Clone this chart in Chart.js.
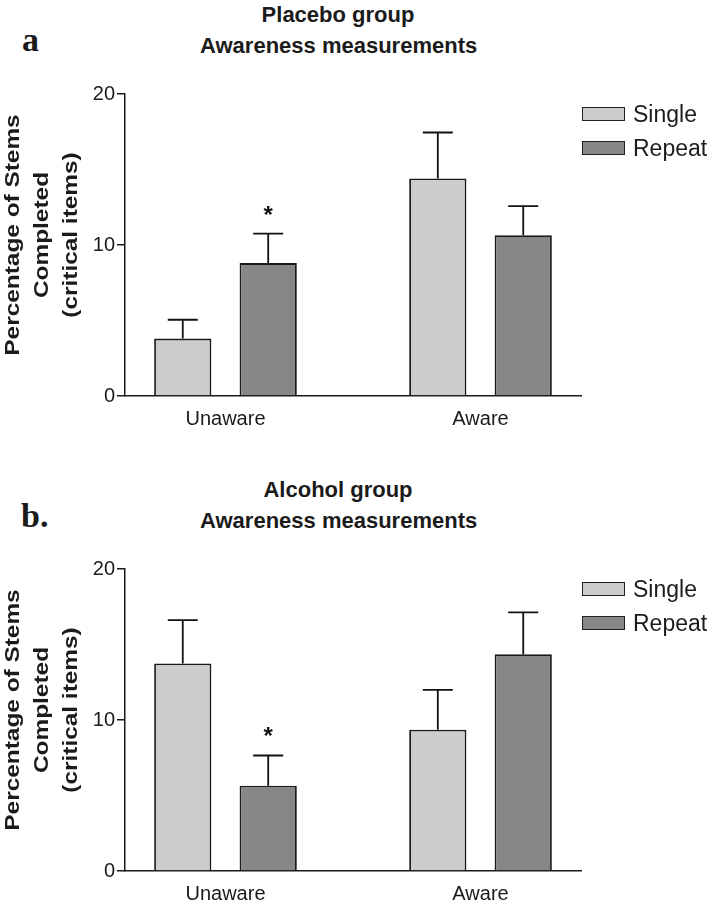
<!DOCTYPE html>
<html lang="en">
<head>
    <meta charset="UTF-8">
    <script src="https://cdn.jsdelivr.net/npm/chart.js"></script>
    <title>Awareness measurements</title>
    <style>
        body { margin: 0; background: #fff; }
        #page { position: relative; width: 710px; height: 901px; overflow: hidden; font-family: "Liberation Sans", Arial, sans-serif; color: #1b1b1b; }
        .abs { position: absolute; white-space: nowrap; }
        .title { left: 200px; width: 276px; text-align: center; font-size: 22px; line-height: 22px; font-weight: bold; }
        .letter { font-family: "Liberation Serif", "Times New Roman", serif; font-weight: bold; font-size: 34px; line-height: 34px; }
        .lgbox { width: 41px; height: 12px; border: 1.5px solid #222; }
        .lgtext { font-size: 23px; line-height: 23px; }
        canvas { position: absolute; left: 0; }
    </style>
</head>
<body>
<div id="page">
    <div class="abs title" style="top:4px">Placebo group</div>
    <div class="abs title" style="top:35px">Awareness measurements</div>
    <div class="abs letter" style="left:22px; top:23px">a</div>

    <div class="abs title" style="top:479px">Alcohol group</div>
    <div class="abs title" style="top:510px">Awareness measurements</div>
    <div class="abs letter" style="left:21px; top:499px">b.</div>

    <canvas id="placeboChart" width="710" height="475" style="top:0"></canvas>
    <canvas id="alcoholChart" width="710" height="426" style="top:475px"></canvas>
</div>
<script>
    // categories and series
    const categories = ['Unaware', 'Aware'];
    const seriesNames = ['Single', 'Repeat'];
    const seriesColors = ['#cbcccd', '#868788'];

    // placebo group (percentage of stems completed, mean and SEM)
    const placeboSingle = [3.8, 14.4];
    const placeboSingleErr = [1.25, 3.05];
    const placeboRepeat = [8.8, 10.65];
    const placeboRepeatErr = [1.95, 1.92];
    const placeboStars = [['', ''], ['*', '']];

    // alcohol group
    const alcoholSingle = [13.75, 9.35];
    const alcoholSingleErr = [2.87, 2.65];
    const alcoholRepeat = [5.65, 14.35];
    const alcoholRepeatErr = [2.0, 2.78];
    const alcoholStars = [['', ''], ['*', '']];

    const yTicks = [0, 10, 20];
    const yTitle = ['Percentage of Stems', 'Completed', '(critical items)'];

    const textColor = '#1b1b1b';
    const fontFamily = '"Liberation Sans", Arial, sans-serif';

    // draws the upper error bars and the significance stars
    const errorBarPlugin = {
        id: 'errorBars',
        afterDatasetsDraw(chart) {
            const ctx = chart.ctx;
            const yScale = chart.scales.y;
            chart.data.datasets.forEach((ds, di) => {
                const meta = chart.getDatasetMeta(di);
                meta.data.forEach((bar, i) => {
                    const top = yScale.getPixelForValue(ds.data[i].y + ds.errors[i]);
                    ctx.save();
                    ctx.strokeStyle = '#111';
                    ctx.lineWidth = 1.8;
                    ctx.beginPath();
                    ctx.moveTo(bar.x, bar.y);
                    ctx.lineTo(bar.x, top);
                    ctx.moveTo(bar.x - 15, top);
                    ctx.lineTo(bar.x + 15, top);
                    ctx.stroke();
                    if (ds.stars[i]) {
                        ctx.fillStyle = '#111';
                        ctx.font = 'bold 24px ' + fontFamily;
                        ctx.textAlign = 'center';
                        ctx.textBaseline = 'alphabetic';
                        ctx.fillText(ds.stars[i], bar.x, top - 11);
                    }
                    ctx.restore();
                });
            });
        }
    };

    // rotated y axis title, a bit stretched along the text like the original figure
    const yTitlePlugin = {
        id: 'yTitle',
        afterDraw(chart) {
            const ctx = chart.ctx;
            const area = chart.chartArea;
            const cy = (area.top + area.bottom) / 2 - 10;
            ctx.save();
            ctx.fillStyle = textColor;
            ctx.font = 'bold 20px ' + fontFamily;
            ctx.textAlign = 'center';
            ctx.textBaseline = 'middle';
            yTitle.forEach((line, i) => {
                ctx.save();
                ctx.translate(13 + i * 29, cy);
                ctx.rotate(-Math.PI / 2);
                ctx.scale(1.22, 1);
                ctx.fillText(line, 0, 0);
                ctx.restore();
            });
            ctx.restore();
        }
    };

    function makePanel(id, values, errors, stars, bottomPad) {
        const ctx = document.getElementById(id).getContext('2d');
        return new Chart(ctx, {
            type: 'bar',
            data: {
                datasets: seriesNames.map((name, s) => ({
                    label: name,
                    data: values[s].map((v, i) => ({ x: i, y: v })),
                    errors: errors[s],
                    stars: stars[s],
                    backgroundColor: seriesColors[s],
                    borderColor: '#1a1a1a',
                    borderWidth: 1.8,
                    categoryPercentage: 0.67,
                    barPercentage: 0.67
                }))
            },
            options: {
                responsive: false,
                animation: false,
                layout: { padding: { top: 94, right: 129, bottom: bottomPad, left: 0 } },
                plugins: {
                    legend: { display: false },
                    tooltip: { enabled: false }
                },
                scales: {
                    x: {
                        type: 'linear',
                        offset: false,
                        min: -0.394,
                        max: 1.394,
                        afterBuildTicks: (scale) => { scale.ticks = categories.map((c, i) => ({ value: i })); },
                        afterFit: (scale) => { scale.height = 30; },
                        grid: { display: false, drawTicks: false, offset: false },
                        border: { display: true, color: '#1a1a1a', width: 1.5 },
                        ticks: {
                            padding: 11,
                            color: textColor,
                            font: { family: fontFamily, size: 20 },
                            callback: (v) => categories[v]
                        }
                    },
                    y: {
                        min: 0,
                        max: 20,
                        afterBuildTicks: (scale) => { scale.ticks = yTicks.map(v => ({ value: v })); },
                        afterFit: (scale) => { scale.width = 125; },
                        grid: { drawOnChartArea: false, drawTicks: true, tickLength: 8, color: '#1a1a1a', lineWidth: 1.5 },
                        border: { display: true, color: '#1a1a1a', width: 1.5 },
                        ticks: {
                            padding: 2,
                            color: textColor,
                            font: { family: fontFamily, size: 20 }
                        }
                    }
                }
            },
            plugins: [errorBarPlugin, yTitlePlugin]
        });
    }

    makePanel('placeboChart',
        [placeboSingle, placeboRepeat],
        [placeboSingleErr, placeboRepeatErr],
        placeboStars, 475 - 396 - 30);

    makePanel('alcoholChart',
        [alcoholSingle, alcoholRepeat],
        [alcoholSingleErr, alcoholRepeatErr],
        alcoholStars, 426 - 396 - 30);

    // legends, one per panel, built from the series arrays
    [107, 582].forEach(top => {
        seriesNames.forEach((name, s) => {
            const box = document.createElement('div');
            box.className = 'abs lgbox';
            box.style.left = '582px';
            box.style.top = (top + s * 34) + 'px';
            box.style.background = seriesColors[s];
            const label = document.createElement('div');
            label.className = 'abs lgtext';
            label.style.left = '633px';
            label.style.top = (top + s * 34 - 4) + 'px';
            label.textContent = name;
            document.getElementById('page').appendChild(box);
            document.getElementById('page').appendChild(label);
        });
    });
</script>
</body>
</html>
